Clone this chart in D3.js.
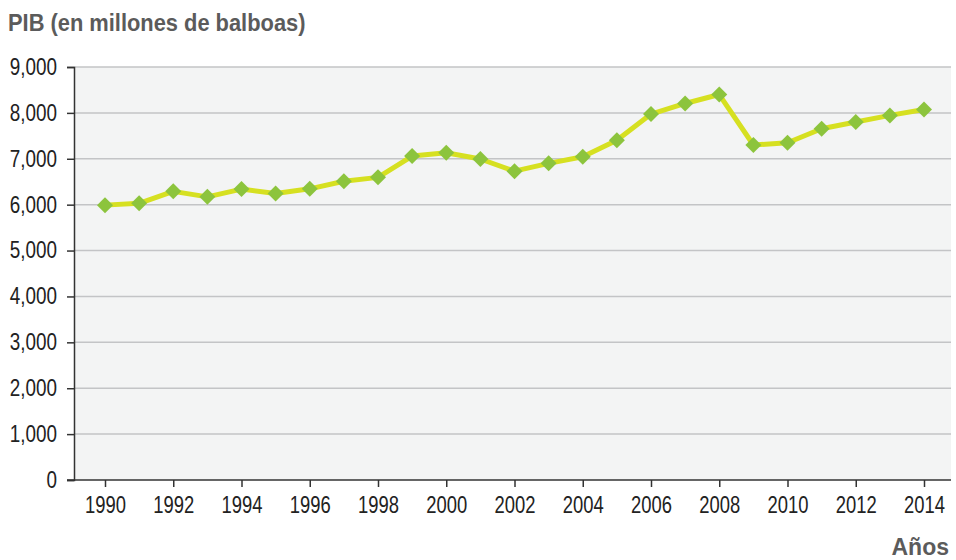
<!DOCTYPE html>
<html>
<head>
<meta charset="utf-8">
<script src="https://cdn.jsdelivr.net/npm/d3@7"></script>
<style>
  body { margin: 0; background: #fff; }
  svg { display: block; }
  text { font-family: "Liberation Sans Narrow", "Arial Narrow", "Liberation Sans", Arial, sans-serif; }
</style>
</head>
<body>
<div class="chart"></div>
<script>
// data
const years = [1990, 1991, 1992, 1993, 1994, 1995, 1996, 1997, 1998, 1999, 2000, 2001, 2002,
  2003, 2004, 2005, 2006, 2007, 2008, 2009, 2010, 2011, 2012, 2013, 2014];
const pib = [5990, 6030, 6290, 6170, 6340, 6245, 6345, 6510, 6595, 7060, 7130, 6995, 6730,
  6900, 7045, 7405, 7975, 8205, 8400, 7300, 7350, 7655, 7800, 7945, 8075];
const yTicks = [0, 1000, 2000, 3000, 4000, 5000, 6000, 7000, 8000, 9000];
const xTicks = [1990, 1992, 1994, 1996, 1998, 2000, 2002, 2004, 2006, 2008, 2010, 2012, 2014];

const width = 956, height = 560;
const plotLeft = 74, plotRight = 951, plotTop = 67, plotBottom = 480;

let svg = d3.select(".chart").append("svg").attr("width", width).attr("height", height);

let x = d3.scaleLinear().domain([1990, 2014]).range([105, 924]);
let y = d3.scaleLinear().domain([0, 9000]).range([plotBottom, plotTop]);

// squeeze text a bit, the original uses a narrow face
function squeeze(sel, k) {
  sel.each(function () {
    let len = this.getComputedTextLength();
    d3.select(this).attr("textLength", len * k).attr("lengthAdjust", "spacingAndGlyphs");
  });
}

// plot background
svg.append("rect")
  .attr("x", plotLeft).attr("y", plotTop)
  .attr("width", plotRight - plotLeft).attr("height", plotBottom - plotTop)
  .attr("fill", "#f3f4f4");

// gridlines
svg.append("g")
  .selectAll("line")
  .data(yTicks.filter(d => d > 0))
  .enter()
  .append("line")
  .attr("x1", plotLeft).attr("x2", plotRight)
  .attr("y1", d => y(d)).attr("y2", d => y(d))
  .attr("stroke", "#c3c4c6")
  .attr("stroke-width", 1.5);

// y axis
let yAxis = svg.append("g")
  .attr("transform", `translate(${plotLeft},0)`)
  .call(d3.axisLeft(y).tickValues(yTicks).tickSize(7).tickPadding(10).tickFormat(d3.format(",")));
yAxis.select(".domain").attr("stroke", "#333").attr("stroke-width", 1.5);
yAxis.selectAll(".tick line").attr("stroke", "#333").attr("stroke-width", 1.5);
yAxis.selectAll("text").attr("font-size", 23).attr("fill", "#222")
  .style("font-family", "'Liberation Sans Narrow', 'Arial Narrow', sans-serif");
squeeze(yAxis.selectAll("text"), 0.82);

// x axis
let xAxis = svg.append("g")
  .attr("transform", `translate(0,${plotBottom})`)
  .call(d3.axisBottom(x).tickValues(xTicks).tickSize(7).tickPadding(10).tickFormat(d3.format("d")));
xAxis.select(".domain").attr("d", `M${plotLeft - 7},0H${plotRight}`).attr("stroke", "#333").attr("stroke-width", 1.5);
xAxis.selectAll(".tick line").attr("stroke", "#333").attr("stroke-width", 1.5);
xAxis.selectAll("text").attr("font-size", 23).attr("fill", "#222")
  .style("font-family", "'Liberation Sans Narrow', 'Arial Narrow', sans-serif");
squeeze(xAxis.selectAll("text"), 0.8);

// the line
let points = years.map((yr, i) => [yr, pib[i]]);
svg.append("path")
  .datum(points)
  .attr("d", d3.line().x(d => x(d[0])).y(d => y(d[1])))
  .attr("fill", "none")
  .attr("stroke", "#d6e021")
  .attr("stroke-width", 5)
  .attr("stroke-linejoin", "round");

// diamond markers
svg.append("g")
  .selectAll("path")
  .data(points)
  .enter()
  .append("path")
  .attr("transform", d => `translate(${x(d[0])},${y(d[1])})`)
  .attr("d", "M0,-8L8,0L0,8L-8,0Z")
  .attr("fill", "#8cc43d");

// titles
let title = svg.append("text")
  .attr("x", 8).attr("y", 31)
  .attr("font-size", 23).attr("font-weight", "bold").attr("fill", "#5b5b5b")
  .text("PIB (en millones de balboas)");
squeeze(title, 0.95);

svg.append("text")
  .attr("x", 949).attr("y", 555)
  .attr("text-anchor", "end")
  .attr("font-size", 23).attr("font-weight", "bold").attr("fill", "#5b5b5b")
  .text("Años");
</script>
</body>
</html>
